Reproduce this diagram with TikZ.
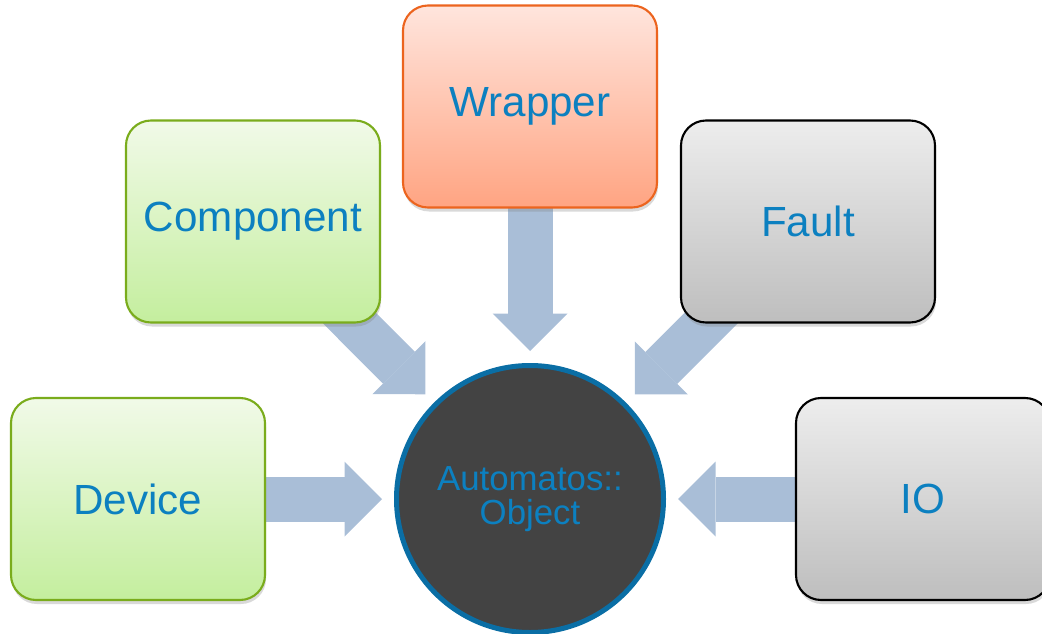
\documentclass[tikz,border=0pt]{standalone}
\usepackage{fontspec}
\setmainfont{Liberation Sans}
\usepackage{tikz}
\usetikzlibrary{arrows.meta,shadows,backgrounds}
\definecolor{labelblue}{RGB}{12,128,192}
\definecolor{feedblue}{RGB}{169,190,215}
\definecolor{hubgray}{RGB}{67,67,67}
\definecolor{hubrim}{RGB}{10,110,165}
\definecolor{greenrim}{RGB}{122,172,28}
\definecolor{greentop}{RGB}{241,250,232}
\definecolor{greenbot}{RGB}{196,238,158}
\definecolor{orangerim}{RGB}{236,100,30}
\definecolor{orangetop}{RGB}{255,229,221}
\definecolor{orangebot}{RGB}{255,164,130}
\definecolor{graytop}{RGB}{237,237,237}
\definecolor{graybot}{RGB}{190,190,190}

\tikzset{
    module/.style={rectangle, rounded corners=0.5cm, minimum width=5.08cm,
        minimum height=4.04cm, line width=1.2pt, text=labelblue,
        font=\fontsize{24pt}{28pt}\selectfont,
        drop shadow={opacity=0.3, shadow xshift=0.02cm, shadow yshift=-0.08cm}},
    greenmod/.style={module, draw=greenrim, top color=greentop, bottom color=greenbot},
    orangemod/.style={module, draw=orangerim, top color=orangetop, bottom color=orangebot},
    graymod/.style={module, draw=black, top color=graytop, bottom color=graybot},
    feed/.style={draw=feedblue, line width=0.9cm,
        -{Triangle[width=1.5cm,length=0.75cm,line width=0pt]}, shorten >=0.24cm},
}

\begin{document}
\begin{tikzpicture}
    \useasboundingbox (0,0) rectangle (20.84,12.66);
    \clip (0,0) rectangle (20.84,12.66);
    %%% CENTRAL OBJECT %%%
    \node[circle, minimum size=5.34cm, line width=0.1cm, draw=hubrim, fill=hubgray,
        text=labelblue, align=center, font=\fontsize{19.8pt}{19pt}\selectfont]
        (obj) at (10.6,2.68) {Automatos::\\[0.5pt]Object};
    %%% MODULES %%%
    \node[greenmod] (device) at (2.76,2.68) {Device};
    \node[greenmod] (component) at (5.06,8.23) {Component};
    \node[orangemod] (wrapper) at (10.6,10.53) {Wrapper};
    \node[graymod] (fault) at (16.16,8.23) {Fault};
    \node[graymod] (io) at (18.46,2.68) {IO};
    %%% FEED ARROWS (behind the boxes) %%%
    \begin{scope}[on background layer]
        \draw[feed] (device.center) -- (obj);
        \draw[feed] (component.center) -- (obj);
        \draw[feed] (wrapper.center) -- (obj);
        \draw[feed] (fault.center) -- (obj);
        \draw[feed] (io.center) -- (obj);
    \end{scope}
\end{tikzpicture}
\end{document}
